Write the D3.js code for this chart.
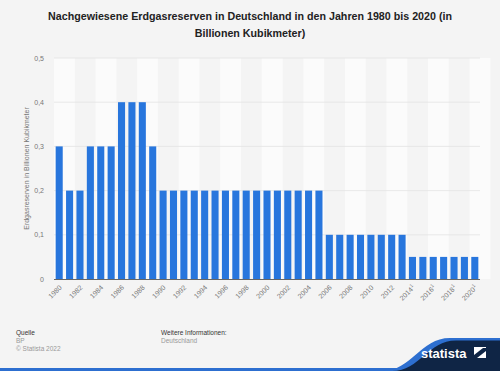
<!DOCTYPE html>
<html>
<head>
<meta charset="utf-8">
<script src="https://cdn.jsdelivr.net/npm/d3@7"></script>
<style>
  body { margin: 0; background: #f4f4f4; }
  svg { display: block; font-family: "Liberation Sans", Arial, sans-serif; }
</style>
</head>
<body>
<div id="chart"></div>
<script>
// years and reserves (trillion m3)
var years = d3.range(1980, 2021);
var reserves = [0.3, 0.2, 0.2, 0.3, 0.3, 0.3, 0.4, 0.4, 0.4, 0.3,
                0.2, 0.2, 0.2, 0.2, 0.2, 0.2, 0.2, 0.2, 0.2, 0.2,
                0.2, 0.2, 0.2, 0.2, 0.2, 0.2,
                0.1, 0.1, 0.1, 0.1, 0.1, 0.1, 0.1, 0.1,
                0.05, 0.05, 0.05, 0.05, 0.05, 0.05, 0.05];
var yTicks = [0, 0.1, 0.2, 0.3, 0.4, 0.5];
var footnoted = [2014, 2016, 2018, 2020];

var W = 500, H = 371;
var margin = {top: 58, right: 20, bottom: 92, left: 54};

var svg = d3.select("#chart").append("svg")
    .attr("width", W)
    .attr("height", H);

svg.append("rect").attr("width", W).attr("height", H).attr("fill", "#f4f4f4");

// title
var title = svg.append("text")
    .attr("text-anchor", "middle")
    .attr("font-size", 10.7)
    .attr("font-weight", "bold")
    .attr("fill", "#222");
title.append("tspan").attr("x", 250).attr("y", 20)
    .text("Nachgewiesene Erdgasreserven in Deutschland in den Jahren 1980 bis 2020 (in");
title.append("tspan").attr("x", 250).attr("y", 37)
    .text("Billionen Kubikmeter)");

// scales
var x = d3.scaleBand()
    .domain(years)
    .range([margin.left, W - margin.right])
    .paddingInner(0.32)
    .paddingOuter(0.16);

var y = d3.scaleLinear()
    .domain([0, 0.5])
    .range([H - margin.bottom, margin.top]);

// alternating stripes, two years each
var step = x.step();
var stripeYears = years.filter(function(d) { return (d - 1980) % 4 == 0; });
svg.append("g").selectAll("rect")
    .data(stripeYears)
    .enter().append("rect")
    .attr("x", function(d) { return x(d) - x.paddingOuter() * step; })
    .attr("y", y(0.5))
    .attr("width", step * 2)
    .attr("height", y(0) - y(0.5))
    .attr("fill", "#fbfbfb");

// grid
svg.append("g").selectAll("line")
    .data(yTicks.slice(1))
    .enter().append("line")
    .attr("x1", margin.left)
    .attr("x2", W - margin.right)
    .attr("y1", function(d) { return y(d); })
    .attr("y2", function(d) { return y(d); })
    .attr("stroke", "#e3e3e3")
    .attr("stroke-width", 0.8);

// y axis labels
var fmt = function(d) { return d3.format(".1f")(d).replace(".", ",").replace(/^0,0$/, "0"); };
svg.append("g").selectAll("text")
    .data(yTicks)
    .enter().append("text")
    .attr("x", 44)
    .attr("y", function(d) { return y(d) + 2.5; })
    .attr("text-anchor", "end")
    .attr("font-size", 7)
    .attr("fill", "#777")
    .text(fmt);

svg.append("text")
    .attr("transform", "translate(29," + ((y(0) + y(0.5)) / 2) + ") rotate(-90)")
    .attr("text-anchor", "middle")
    .attr("font-size", 7)
    .attr("fill", "#777")
    .text("Erdgasreserven in Billionen Kubikmeter");

// bars
svg.append("g").selectAll("rect")
    .data(reserves)
    .enter().append("rect")
    .attr("x", function(d, i) { return x(years[i]); })
    .attr("y", function(d) { return y(d); })
    .attr("width", x.bandwidth())
    .attr("height", function(d) { return y(0) - y(d); })
    .attr("fill", "#2876dd");

// baseline
svg.append("line")
    .attr("x1", margin.left)
    .attr("x2", W - margin.right)
    .attr("y1", y(0) + 0.5)
    .attr("y2", y(0) + 0.5)
    .attr("stroke", "#666")
    .attr("stroke-width", 1);

// x labels
var xl = svg.append("g").selectAll("text")
    .data(years.filter(function(d) { return d % 2 == 0; }))
    .enter().append("text")
    .attr("transform", function(d) {
        return "translate(" + (x(d) + x.bandwidth() / 2 + 3) + "," + (y(0) + 9) + ") rotate(-45)";
    })
    .attr("text-anchor", "end")
    .attr("font-size", 7)
    .attr("fill", "#777");
xl.append("tspan").text(function(d) { return d; });
xl.filter(function(d) { return footnoted.indexOf(d) >= 0; })
    .append("tspan").attr("font-size", 5).attr("dy", -3).text("1");

// footer
var foot = svg.append("g").attr("font-size", 6.5);
foot.append("text").attr("x", 16).attr("y", 335).attr("fill", "#333").text("Quelle");
foot.append("text").attr("x", 16).attr("y", 343).attr("fill", "#999").text("BP");
foot.append("text").attr("x", 16).attr("y", 351).attr("fill", "#999").text("© Statista 2022");
foot.append("text").attr("x", 161).attr("y", 335).attr("fill", "#333").text("Weitere Informationen:");
foot.append("text").attr("x", 161).attr("y", 343).attr("fill", "#999").text("Deutschland");

// logo
svg.append("rect").attr("x", 0).attr("y", 368).attr("width", W).attr("height", 3).attr("fill", "#2d6fd0");
svg.append("path")
    .attr("d", "M382,371 C412,371 420,338 450,338 L500,338 L500,371 Z")
    .attr("fill", "#2d6fd0");
svg.append("path")
    .attr("d", "M392,371 C420,371 428,340.5 456,340.5 L500,340.5 L500,371 Z")
    .attr("fill", "#0f2545");
svg.append("text")
    .attr("x", 421)
    .attr("y", 358)
    .attr("font-size", 13)
    .attr("font-weight", "bold")
    .attr("fill", "#fff")
    .text("statista");
svg.append("path")
    .attr("d", "M474,347 L486,347 L486,358 L474,358 Z")
    .attr("fill", "#fff");
svg.append("path")
    .attr("d", "M474,355 L483,348 L486,348 L486,351 L477,358 L474,358 Z")
    .attr("fill", "#0f2545");
</script>
</body>
</html>
